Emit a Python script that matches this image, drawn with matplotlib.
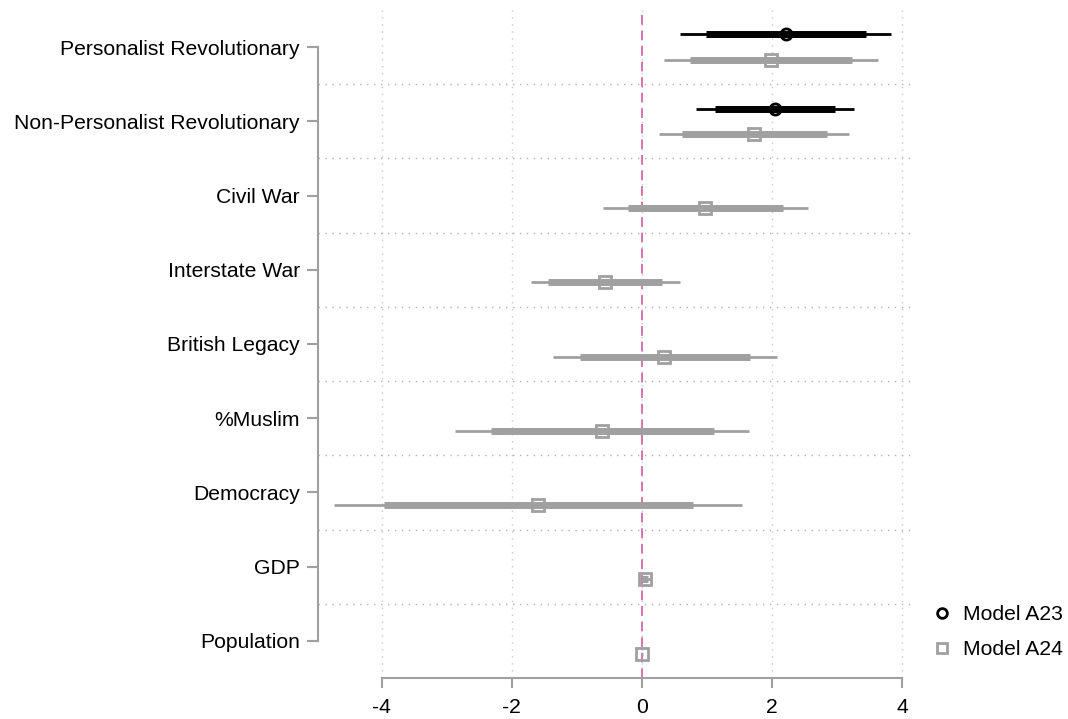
import matplotlib
matplotlib.use("Agg")
import matplotlib.pyplot as plt
from matplotlib.lines import Line2D

plt.rcParams['font.family'] = ['Liberation Sans', 'DejaVu Sans']
plt.rcParams['axes.unicode_minus'] = False

categories = ["Personalist Revolutionary", "Non-Personalist Revolutionary", "Civil War",
              "Interstate War", "British Legacy", "%Muslim", "Democracy", "GDP", "Population"]

# Model A23 (only first two variables)
a23_idx = [0, 1]
a23_est = [2.22, 2.05]
a23_lo95 = [0.59, 0.84]
a23_hi95 = [3.83, 3.26]
a23_lo90 = [0.99, 1.12]
a23_hi90 = [3.45, 2.97]

# Model A24 (all variables)
a24_est = [1.98, 1.72, 0.97, -0.57, 0.34, -0.62, -1.60, 0.05, 0.00]
a24_lo95 = [0.34, 0.27, -0.60, -1.71, -1.37, -2.88, -4.73, -0.03, -0.01]
a24_hi95 = [3.63, 3.18, 2.55, 0.58, 2.08, 1.65, 1.54, 0.15, 0.01]
a24_lo90 = [0.74, 0.62, -0.21, -1.45, -0.95, -2.32, -3.97, 0.00, -0.005]
a24_hi90 = [3.23, 2.84, 2.17, 0.31, 1.66, 1.11, 0.78, 0.10, 0.005]

xticks = [-4, -2, 0, 2, 4]

grey = '#a0a0a0'
off = 0.17
fs = 15.2

fig = plt.figure(figsize=(10.68, 7.19), dpi=100)
ax = fig.add_axes([318/1068, 1-678/719, (915-318)/1068, (678-10)/719])

ax.set_xlim(-4.98, 4.2)
ax.set_ylim(8.5, -0.5)

# grid
for xt in xticks:
    ax.axvline(xt, color='#c8c8c8', lw=1.0, ls=(0, (1, 4)), zorder=0)
for i in range(len(categories) - 1):
    ax.axhline(i + 0.5, color='#b0b0b0', lw=1.0, ls=(0, (1, 4)), zorder=0)

ax.axvline(0, color='#d475ae', lw=1.4, ls=(0, (5, 3)), zorder=1)

# Model A24
for i in range(len(categories)):
    y = i + off
    ax.plot([a24_lo95[i], a24_hi95[i]], [y, y], color=grey, lw=2, solid_capstyle='butt', zorder=2)
    ax.plot([a24_lo90[i], a24_hi90[i]], [y, y], color=grey, lw=5, solid_capstyle='butt', zorder=2)
ax.plot(a24_est, [i + off for i in range(len(categories))], ls='none', marker='s', ms=8,
        mfc='none', mec=grey, mew=2, zorder=3)

# Model A23
for k, i in enumerate(a23_idx):
    y = i - off
    ax.plot([a23_lo95[k], a23_hi95[k]], [y, y], color='black', lw=2, solid_capstyle='butt', zorder=2)
    ax.plot([a23_lo90[k], a23_hi90[k]], [y, y], color='black', lw=5, solid_capstyle='butt', zorder=2)
ax.plot(a23_est, [i - off for i in a23_idx], ls='none', marker='o', ms=8,
        mfc='none', mec='black', mew=2, zorder=3)

# axes styling
for s in ['top', 'right']:
    ax.spines[s].set_visible(False)
ax.spines['left'].set_bounds(0, 8)
ax.spines['bottom'].set_bounds(-4, 4)
for s in ['left', 'bottom']:
    ax.spines[s].set_color(grey)
    ax.spines[s].set_linewidth(1.5)

ax.set_yticks(range(len(categories)))
ax.set_yticklabels(categories, fontsize=fs)
ax.set_xticks(xticks)
ax.set_xticklabels([str(v) for v in xticks], fontsize=fs)
ax.tick_params(axis='y', length=8, width=1.5, color=grey, pad=5)
ax.tick_params(axis='x', length=7.5, width=1.5, color=grey, pad=7)

handles = [Line2D([], [], ls='none', marker='o', ms=7, mfc='none', mec='black', mew=2),
           Line2D([], [], ls='none', marker='s', ms=7, mfc='none', mec=grey, mew=2)]
fig.legend(handles, ['Model A23', 'Model A24'], loc='center left',
           bbox_to_anchor=(912/1068, 1-632/719), frameon=False, fontsize=fs,
           handletextpad=0.5, labelspacing=0.75, handlelength=1.0)

fig.savefig('out.png', dpi=100)
